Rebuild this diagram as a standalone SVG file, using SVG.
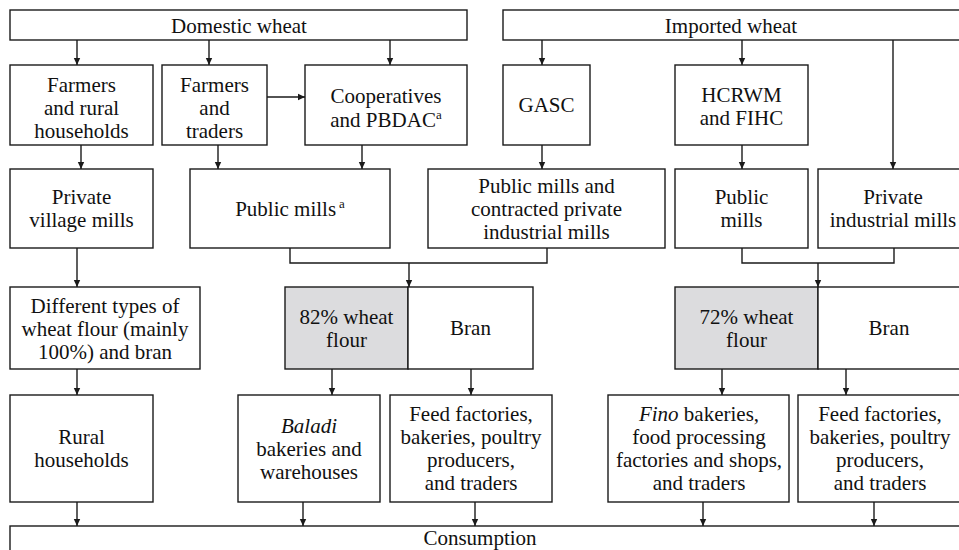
<svg xmlns="http://www.w3.org/2000/svg" width="959" height="550" viewBox="0 0 959 550">
<defs>
<marker id="ah" markerWidth="8" markerHeight="8" refX="7" refY="4" orient="auto" markerUnits="userSpaceOnUse">
<path d="M0,0.8 L7,4 L0,7.2 Z" fill="#1a1a1a"/>
</marker>
<style>
.b{fill:#fff;stroke:#1a1a1a;stroke-width:1.4}
.g{fill:#dcdcde;stroke:#1a1a1a;stroke-width:1.4}
.t{font-family:'Liberation Serif','Times New Roman',Tinos,serif;font-size:21px;fill:#111;text-anchor:middle}
.c{fill:none;stroke:#1a1a1a;stroke-width:1.4}
.a{marker-end:url(#ah)}
.sup{font-size:13px}
.i{font-style:italic}
</style>
</defs>
<rect width="959" height="550" fill="#fff"/>
<g class="t">

<g id="domestic"><rect class="b" x="10" y="10" width="457" height="30"/><text x="239" y="33">Domestic wheat</text></g>
<g id="imported"><rect class="b" x="503" y="10" width="470" height="30"/><text x="731" y="33">Imported wheat</text></g>

<g id="farmers-rural"><rect class="b" x="10" y="65" width="143" height="80"/><text x="81.5" y="92">Farmers</text><text x="81.5" y="115">and rural</text><text x="81.5" y="138">households</text></g>
<g id="farmers-traders"><rect class="b" x="162" y="65" width="105" height="80"/><text x="214.5" y="92">Farmers</text><text x="214.5" y="115">and</text><text x="214.5" y="138">traders</text></g>
<g id="cooperatives"><rect class="b" x="305" y="65" width="162" height="80"/><text x="386" y="103">Cooperatives</text><text x="386" y="127">and PBDAC<tspan class="sup" baseline-shift="8">a</tspan></text></g>
<g id="gasc"><rect class="b" x="503" y="65" width="87" height="80"/><text x="546.5" y="112">GASC</text></g>
<g id="hcrwm"><rect class="b" x="675" y="65" width="133" height="80"/><text x="741.5" y="102">HCRWM</text><text x="741.5" y="125">and FIHC</text></g>

<g id="private-village"><rect class="b" x="10" y="169" width="143" height="79"/><text x="81.5" y="204">Private</text><text x="81.5" y="227">village mills</text></g>
<g id="public-mills-a"><rect class="b" x="190" y="169" width="200" height="79"/><text x="290" y="216">Public mills<tspan class="sup" dx="3" baseline-shift="8">a</tspan></text></g>
<g id="public-contracted"><rect class="b" x="428" y="169" width="237" height="79"/><text x="546.5" y="193">Public mills and</text><text x="546.5" y="216">contracted private</text><text x="546.5" y="239">industrial mills</text></g>
<g id="public-mills"><rect class="b" x="675" y="169" width="133" height="79"/><text x="741.5" y="204">Public</text><text x="741.5" y="227">mills</text></g>
<g id="private-industrial"><rect class="b" x="818" y="169" width="155" height="79"/><text x="893" y="204">Private</text><text x="893" y="227">industrial mills</text></g>

<g id="different-types"><rect class="b" x="10" y="287" width="190" height="82"/><text x="105" y="313">Different types of</text><text x="105" y="336">wheat flour (mainly</text><text x="105" y="359">100%) and bran</text></g>
<g id="flour82"><rect class="g" x="285" y="287" width="123" height="82"/><text x="346.5" y="324">82% wheat</text><text x="346.5" y="347">flour</text></g>
<g id="bran1"><rect class="b" x="408" y="287" width="125" height="82"/><text x="470.5" y="335">Bran</text></g>
<g id="flour72"><rect class="g" x="675" y="287" width="143" height="82"/><text x="746.5" y="324">72% wheat</text><text x="746.5" y="347">flour</text></g>
<g id="bran2"><rect class="b" x="818" y="287" width="155" height="82"/><text x="889" y="335">Bran</text></g>

<g id="rural"><rect class="b" x="10" y="395" width="143" height="107"/><text x="81.5" y="444">Rural</text><text x="81.5" y="467">households</text></g>
<g id="baladi"><rect class="b" x="238" y="395" width="142" height="107"/><text x="309" y="433" class="i">Baladi</text><text x="309" y="456">bakeries and</text><text x="309" y="479">warehouses</text></g>
<g id="feed1"><rect class="b" x="390" y="395" width="162" height="107"/><text x="471" y="421">Feed factories,</text><text x="471" y="444">bakeries, poultry</text><text x="471" y="467">producers,</text><text x="471" y="490">and traders</text></g>
<g id="fino"><rect class="b" x="608" y="395" width="181" height="107"/><text x="699" y="421"><tspan class="i">Fino</tspan> bakeries,</text><text x="699" y="444">food processing</text><text x="699" y="467">factories and shops,</text><text x="699" y="490">and traders</text></g>
<g id="feed2"><rect class="b" x="798" y="395" width="175" height="107"/><text x="880" y="421">Feed factories,</text><text x="880" y="444">bakeries, poultry</text><text x="880" y="467">producers,</text><text x="880" y="490">and traders</text></g>

<g id="consumption"><rect class="b" x="10" y="526" width="963" height="40"/><text x="480" y="545">Consumption</text></g>
</g>

<g id="connectors">
<path class="c a" d="M77,40 V65"/>
<path class="c a" d="M209,40 V65"/>
<path class="c a" d="M390,40 V65"/>
<path class="c a" d="M267,97 H305"/>
<path class="c a" d="M542,40 V65"/>
<path class="c a" d="M742,40 V65"/>
<path class="c a" d="M893,40 V169"/>
<path class="c a" d="M81,145 V169"/>
<path class="c a" d="M218,145 V169"/>
<path class="c a" d="M362,145 V169"/>
<path class="c a" d="M542,145 V169"/>
<path class="c a" d="M742,145 V169"/>
<path class="c a" d="M77,248 V287"/>
<path class="c" d="M290,248 V263 H547 V248"/>
<path class="c a" d="M409,263 V287"/>
<path class="c" d="M742,248 V263 H894 V248"/>
<path class="c a" d="M818,263 V287"/>
<path class="c a" d="M77,369 V395"/>
<path class="c a" d="M332,369 V395"/>
<path class="c a" d="M471,369 V395"/>
<path class="c a" d="M722,369 V395"/>
<path class="c a" d="M846,369 V395"/>
<path class="c a" d="M77,502 V526"/>
<path class="c a" d="M303,502 V526"/>
<path class="c a" d="M475,502 V526"/>
<path class="c a" d="M703,502 V526"/>
<path class="c a" d="M874,502 V526"/>
</g>
</svg>
